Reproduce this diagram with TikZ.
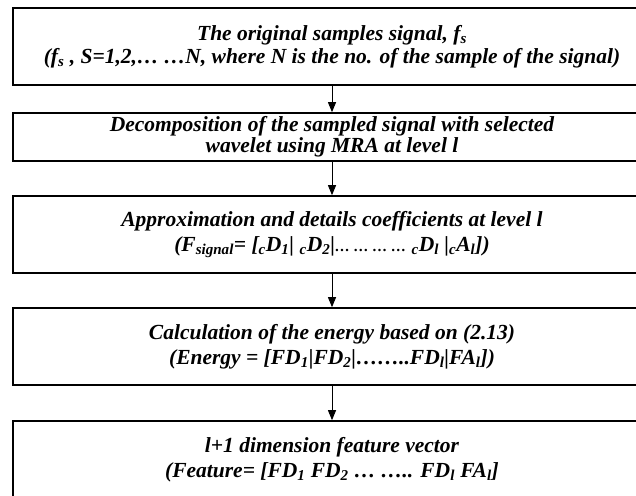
\documentclass[tikz,border=0pt]{standalone}
\usepackage{fontspec}
\setmainfont{Liberation Serif}
\usetikzlibrary{arrows.meta}
\begin{document}
\begin{tikzpicture}[x=1pt,y=1pt,
    stagebox/.style={draw,line width=1.6pt,rectangle,minimum width=638pt,
      inner sep=0pt,align=center,font=\fontsize{21.5}{25}\selectfont\bfseries\itshape},
    flow/.style={line width=0.9pt,-{Triangle[length=10pt,width=8pt]}}]
      \useasboundingbox (0,0) rectangle (636,-495);
      \node[stagebox,minimum height=77pt] (signal) at (332,-46.5)
        {The original samples signal, f\textsubscript{s}\\[-2pt]
         (f\textsubscript{s} , S=1,2,… …N, where N is the no. of the sample of the signal)};
      \node[stagebox,minimum height=48pt,font=\fontsize{21.5}{21}\selectfont\bfseries\itshape] (decomp) at (332,-137)
        {Decomposition of the sampled signal with selected\\
         wavelet using MRA at level l};
      \node[stagebox,minimum height=77pt] (coeff) at (332,-234.5)
        {Approximation and details coefficients at level l\\
         (F\textsubscript{signal}= [\textsubscript{c}D\textsubscript{1}| \textsubscript{c}D\textsubscript{2}|{\fontsize{15}{15}\selectfont… … … …} \textsubscript{c}D\textsubscript{l} |\textsubscript{c}A\textsubscript{l}])};
      \node[stagebox,minimum height=77pt] (energy) at (332,-346.5)
        {Calculation of the energy based on (2.13)\\
         (Energy = [FD\textsubscript{1}|FD\textsubscript{2}|……..FD\textsubscript{l}|FA\textsubscript{l}])};
      \node[stagebox,minimum height=77pt] (feature) at (332,-459.5)
        {l+1 dimension feature vector\\
         (Feature= [FD\textsubscript{1} FD\textsubscript{2} … ….. FD\textsubscript{l} FA\textsubscript{l}]};
      \begin{scope}[flow]
        \draw (signal) to (decomp);
        \draw (decomp) to (coeff);
        \draw (coeff) to (energy);
        \draw (energy) to (feature);
      \end{scope}
    \end{tikzpicture}
\end{document}
